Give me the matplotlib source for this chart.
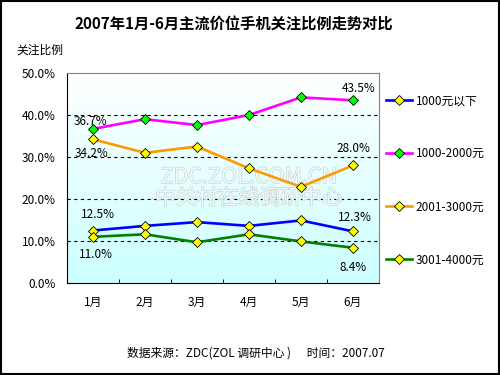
import matplotlib
matplotlib.use("Agg")
import matplotlib.pyplot as plt
import matplotlib.patheffects as pe
from matplotlib.patches import Rectangle
import numpy as np

plt.rcParams['font.family'] = ['Noto Sans CJK SC', 'DejaVu Sans']

months = ['1月', '2月', '3月', '4月', '5月', '6月']
series_names = ['1000元以下', '1000-2000元', '2001-3000元', '3001-4000元']
below_1000 = [12.5, 13.6, 14.5, 13.6, 14.9, 12.3]
p1000_2000 = [36.7, 39.0, 37.6, 40.0, 44.2, 43.5]
p2001_3000 = [34.2, 31.0, 32.5, 27.3, 22.9, 28.0]
p3001_4000 = [11.0, 11.6, 9.7, 11.6, 9.9, 8.4]
yticks = [0, 10, 20, 30, 40, 50]

colors = ['#0000ff', '#ff00ff', '#ff9900', '#008000']
marker_faces = ['#ffff00', '#00ff00', '#ffff00', '#ffff00']
data = [below_1000, p1000_2000, p2001_3000, p3001_4000]

fig = plt.figure(figsize=(5, 3.75), dpi=100)
ax = fig.add_axes([0.134, 0.2453, 0.624, 0.56])

x = np.arange(len(months))

# gradient background, white at top -> light cyan at bottom
grad = np.linspace(0, 1, 256).reshape(-1, 1)
cmap = matplotlib.colors.LinearSegmentedColormap.from_list('bg', ['#ffffff', '#ccffff'])
ax.imshow(grad, aspect='auto', cmap=cmap, extent=[-0.5, 5.5, 0, 50], origin='upper', zorder=0)

for vals, c, mf, name in zip(data, colors, marker_faces, series_names):
    ax.plot(x, vals, color=c, lw=1.9, marker='D', markersize=5,
            markerfacecolor=mf, markeredgecolor='black', markeredgewidth=0.6,
            label=name, zorder=3)

for yv in yticks[1:-1]:
    ax.axhline(yv, color='black', lw=0.8, ls=(0, (3, 3)), zorder=1)

ax.set_xlim(-0.5, 5.5)
ax.set_ylim(0, 50)
ax.set_yticks(yticks)
ax.set_yticklabels(['%.1f%%' % v for v in yticks], fontsize=8.5)
ax.set_xticks(x)
ax.set_xticklabels(months, fontsize=8.5)
ax.set_xticks(np.arange(0.5, 5.5, 1), minor=True)
ax.tick_params(axis='y', length=0, pad=8)
ax.tick_params(axis='x', which='major', length=0, pad=9)
ax.tick_params(axis='x', which='minor', direction='in', length=3, color='black')

for s in ['top', 'right']:
    ax.spines[s].set_color('#808080')
for s in ['left', 'bottom']:
    ax.spines[s].set_color('black')

# data labels
labels = [
    (0, p1000_2000[0], '36.7%', -3, 7),
    (0, p2001_3000[0], '34.2%', -1, -14),
    (0, below_1000[0], '12.5%', 5, 16),
    (0, p3001_4000[0], '11.0%', 3, -18),
    (5, p1000_2000[5], '43.5%', 6, 12),
    (5, p2001_3000[5], '28.0%', 0, 17),
    (5, below_1000[5], '12.3%', 2, 14),
    (5, p3001_4000[5], '8.4%', 0, -20),
]
for xi, yi, t, dx, dy in labels:
    ax.annotate(t, (xi, yi), xytext=(dx, dy), textcoords='offset pixels',
                ha='center', va='center', fontsize=8.5, zorder=4)

# watermark
wm = [pe.withStroke(linewidth=0.8, foreground='#c4cccc')]
ax.text(3.0, 25.2, 'ZDC.ZOL.COM.CN', fontsize=15.5, color='#f2fafa', ha='center',
        va='center', path_effects=wm, zorder=2)
ax.text(3.0, 20.2, '中关村在线调研中心', fontsize=15, color='#f2fafa', ha='center',
        va='center', path_effects=wm, zorder=2)

ax.legend(loc='upper left', bbox_to_anchor=(0.772, 0.749), bbox_transform=fig.transFigure,
          frameon=False, fontsize=8.5, labelspacing=3.4, handlelength=2.2,
          handletextpad=0.3, borderpad=0, borderaxespad=0)

fig.text(0.468, 0.933, '2007年1月-6月主流价位手机关注比例走势对比', ha='center', va='center',
         fontsize=11, fontweight='bold')
fig.text(0.032, 0.867, '关注比例', ha='left', va='center', fontsize=8.5)
fig.text(0.254, 0.059, '数据来源：ZDC(ZOL 调研中心 )      时间：2007.07', ha='left',
         va='center', fontsize=8.5)

fig.patches.append(Rectangle((0.002, 0.003), 0.996, 0.994, transform=fig.transFigure,
                             fill=False, edgecolor='black', lw=1.5))

fig.savefig('out.png', dpi=100)
